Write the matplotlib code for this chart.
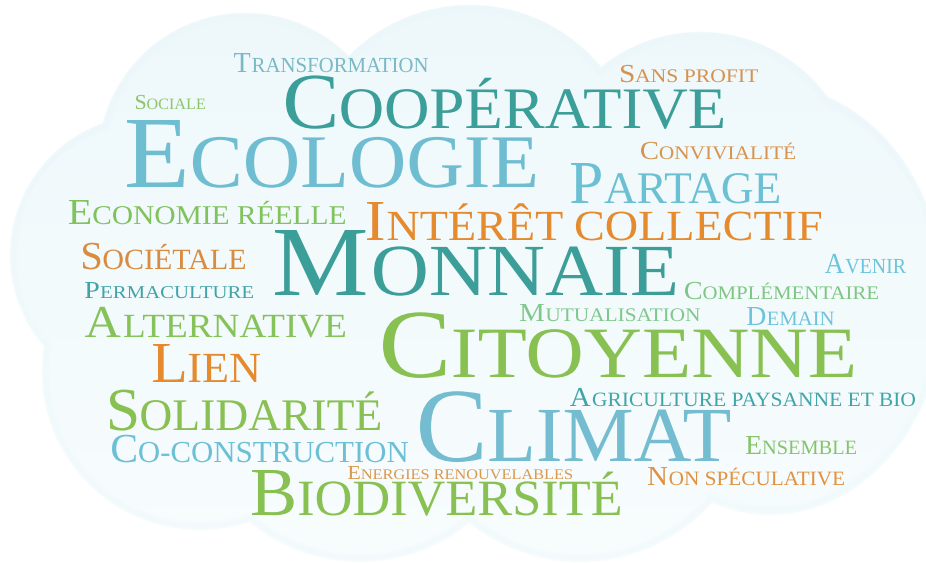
"""
Word cloud: small-caps serif words on a pale blue cloud.
"""

import matplotlib
matplotlib.use("Agg")
import matplotlib.pyplot as plt
import matplotlib.transforms as mtransforms
import numpy as np
from matplotlib.font_manager import FontProperties
from matplotlib.patches import PathPatch
from matplotlib.path import Path
from matplotlib.textpath import TextPath

W, H = 926, 563

# ---- data: words and their weight (cap height in px) ----
WORDS = [
    "Transformation", "Sociale", "Coopérative", "Sans profit", "Ecologie",
    "Convivialité", "Partage", "Economie réelle", "Intérêt collectif",
    "Sociétale", "Monnaie", "Avenir", "Permaculture", "Complémentaire",
    "Mutualisation", "Demain", "Alternative", "Citoyenne", "Lien",
    "Agriculture paysanne et bio", "Solidarité", "Climat", "Co-construction",
    "Ensemble", "Energies renouvelables", "Non spéculative", "Biodiversité",
]
WEIGHTS = [
    19, 14, 52, 17, 67,
    17, 40, 24, 38,
    26, 65, 19, 16, 17,
    17, 18, 30, 64, 38,
    18, 40, 69, 27,
    18, 13, 18, 45,
]

# ---- layout: (left, right, baseline) in pixels ----
LAYOUT = [
    (234, 428, 72), (136, 205, 109), (286, 723, 128), (621, 758, 82), (127, 535, 187),
    (641, 795, 159), (571, 779, 203), (69, 345, 224), (367, 821, 240),
    (83, 245, 269), (275, 675, 295), (825, 906, 273), (85, 253, 298), (685, 878, 299),
    (520, 700, 321), (747, 834, 325), (85, 345, 337), (383, 853, 377), (153, 260, 382),
    (570, 915, 406), (110, 380, 430), (420, 730, 461), (112, 408, 462),
    (746, 856, 454), (348, 572, 479), (648, 844, 485), (252, 620, 515),
]

TEAL = "#3b9e99"
BLUE = "#6fbdd0"
GREEN = "#88c152"
ORANGE = "#e68a2e"
COLORS = [
    "#7bb9c5", "#8cc66a", TEAL, "#d8914c", BLUE,
    "#d6944e", "#6cc0d3", "#80c35c", ORANGE,
    "#d98b40", TEAL, "#6cc5dc", "#40a3a8", "#7ec683",
    "#7ec88c", "#6ec4dc", "#85c25a", GREEN, ORANGE,
    "#3fa5a8", GREEN, "#74bccf", "#6bc0d6",
    "#85c46a", "#d9984f", "#e0923f", GREEN,
]

# ---- cloud shape: circles (cx, cy, r) and ellipses (cx, cy, a, b) ----
CIRCLES = [
    (245, 160, 147), (470, 175, 170), (700, 190, 158), (150, 255, 140),
    (200, 372, 158), (360, 390, 172), (580, 385, 177),
]
ELLIPSES = [(480, 290, 400, 200), (770, 300, 175, 215)]

fig = plt.figure(figsize=(W / 100, H / 100), dpi=100)
ax = fig.add_axes([0, 0, 1, 1])
ax.set_xlim(0, W)
ax.set_ylim(H, 0)
ax.set_axis_off()

# cloud as a signed-distance mask
yy, xx = np.mgrid[0:H, 0:W] + 0.5
sd = np.full((H, W), -1e9)
for cx, cy, r in CIRCLES:
    sd = np.maximum(sd, r - np.hypot(xx - cx, yy - cy))
for cx, cy, a, b in ELLIPSES:
    q = np.sqrt(((xx - cx) / a) ** 2 + ((yy - cy) / b) ** 2)
    sd = np.maximum(sd, (1 - q) * min(a, b))

top = np.array([238, 248, 251]) / 255
bottom = np.array([248, 253, 254]) / 255
t = (yy / H)[..., None]
rgb = top * (1 - t) + bottom * t
ring = np.clip(1 - np.abs(sd - 4) / 5, 0, 1)[..., None]
rgb = rgb * (1 - 0.4 * ring) + np.array([232, 245, 250]) / 255 * 0.4 * ring
alpha = np.clip(sd / 1.5 + 0.5, 0, 1)
img = np.dstack([rgb, alpha])
ax.imshow(img, extent=(0, W, H, 0), origin="upper", interpolation="bilinear", zorder=0)

# words in small caps
prop = FontProperties(family="Liberation Serif")
cap_unit = TextPath((0, 0), "H", size=100, prop=prop).get_extents().height


def smallcaps_path(word, ratio=0.74):
    head = TextPath((0, 0), word[0], size=100, prop=prop)
    gap = head.get_extents().x1 + 5
    tail = TextPath((gap, 0), word[1:].upper(), size=100 * ratio, prop=prop)
    return Path.make_compound_path(head, tail)


for word, cap, (x0, x1, base), color in zip(WORDS, WEIGHTS, LAYOUT, COLORS):
    path = smallcaps_path(word)
    ext = path.get_extents()
    sy = cap / cap_unit
    sx = (x1 - x0) / ext.width
    tr = mtransforms.Affine2D().translate(-ext.x0, 0).scale(sx, -sy).translate(x0, base)
    patch = PathPatch(tr.transform_path(path), facecolor=color, edgecolor="none", zorder=2)
    ax.add_patch(patch)

fig.savefig("out.png", dpi=100)
